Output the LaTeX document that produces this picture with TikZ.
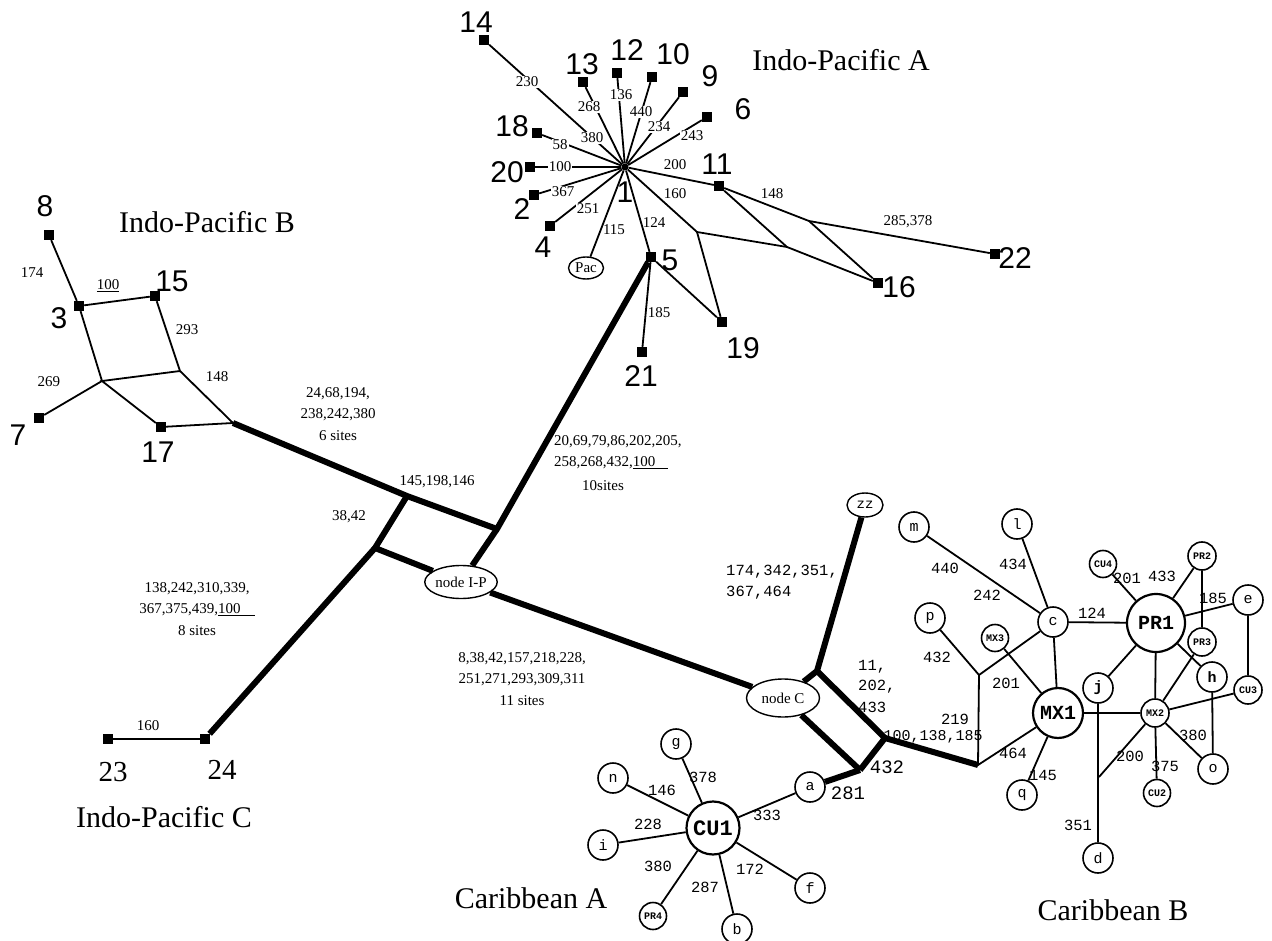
\documentclass[tikz,border=0pt]{standalone}
\usepackage{fontspec}
\setmainfont{Liberation Serif}
\setmonofont{Liberation Mono}
\newfontfamily\hsans{Liberation Sans}
\usetikzlibrary{shapes.geometric}
\tikzset{
 ln/.style={line width=1.8pt},
 thk/.style={line width=6pt},
 sq/.style={fill=black, rectangle, minimum size=10pt, inner sep=0pt},
 big/.style={font=\hsans\fontsize{30}{30}\selectfont, inner sep=0pt},
 sbig/.style={font=\fontsize{29}{29}\selectfont, inner sep=0pt},
 lab/.style={font=\fontsize{15}{15}\selectfont, inner sep=1pt},
 wlab/.style={lab, fill=white},
 blk/.style={font=\fontsize{15}{21.5}\selectfont, align=center, inner sep=0pt},
 reg/.style={font=\fontsize{30}{30}\selectfont, inner sep=0pt},
 mn/.style={font=\ttfamily\fontsize{15.5}{15.5}\selectfont, inner sep=1pt},
 mbig/.style={font=\ttfamily\fontsize{19}{19}\selectfont, inner sep=1pt},
 cnode/.style={circle, draw, line width=1.6pt, minimum size=30pt, inner sep=0pt, font=\ttfamily\fontsize{15}{15}\selectfont},
 csml/.style={circle, draw, line width=1.6pt, minimum size=27pt, inner sep=0pt, font=\ttfamily\bfseries\fontsize{10}{10}\selectfont},
 cbig/.style={circle, draw, line width=2.2pt, inner sep=0pt, font=\ttfamily\bfseries\fontsize{20}{20}\selectfont},
 ovl/.style={ellipse, draw, line width=1.4pt, inner sep=0pt, font=\fontsize{15}{15}\selectfont},
}
\begin{document}
\begin{tikzpicture}[x=1pt,y=-1pt]
\useasboundingbox[fill=white] (0,0) rectangle (1272,941);

% ---------------- Indo-Pacific A ----------------
\node[circle, fill=black, inner sep=0pt, minimum size=7pt] (hub) at (625,167) {};
\node[sq] (n14) at (484,40) {};
\node[sq] (n13) at (583,82) {};
\node[sq] (n12) at (617,73) {};
\node[sq] (n10) at (652,77) {};
\node[sq] (n9) at (683,92) {};
\node[sq] (n6) at (707,117) {};
\node[sq] (n18) at (537,133) {};
\node[sq] (n20) at (530,167) {};
\node[sq] (n2) at (534,195) {};
\node[sq] (n4) at (550,226) {};
\node[ovl, minimum width=35pt, minimum height=22pt] (pac) at (586,268) {Pac};
\node[sq] (n5) at (651,257) {};
\node[sq] (n11) at (719,186) {};
\node[sq] (n16) at (878,283) {};
\node[sq] (n22) at (995,254) {};
\node[sq] (n19) at (722,322) {};
\node[sq] (n21) at (642,352) {};
\coordinate (C1) at (697,232);
\coordinate (B1) at (787,247);
\coordinate (A1) at (809,221);

\foreach \t in {n14,n13,n12,n10,n9,n6,n18,n20,n2,n4,pac,n5,n11}
  \draw[ln] (hub) -- (\t);
\draw[ln] (hub) -- (C1) -- (B1) -- (n16);
\draw[ln] (n11) -- (A1) -- (n22);
\draw[ln] (n11) -- (B1);
\draw[ln] (A1) -- (n16);
\draw[ln] (C1) -- (n19);
\draw[ln] (n5) -- (n19);
\draw[ln] (n5) -- (n21);

\node[big] (t14) at (476,22) {14};
\node[big] (t13) at (582,64) {13};
\node[big] (t12) at (627,50) {12};
\node[big] (t10) at (673,54) {10};
\node[big] (t9) at (710,76) {9};
\node[big] (t6) at (743,109) {6};
\node[big] (t18) at (512,126) {18};
\node[big] (t20) at (507,172) {20};
\node[big] (t2) at (522,209) {2};
\node[big] (t4) at (543,247) {4};
\node[big] (t1) at (625,192) {1};
\node[big] (t5) at (670,260) {5};
\node[big] (t11) at (717,164) {11};
\node[big] (t16) at (899,287) {16};
\node[big] (t22) at (1015,258) {22};
\node[big] (t19) at (743,348) {19};
\node[big] (t21) at (641,376) {21};
\node[reg] (rA) at (841,60) {Indo-Pacific A};

\node[wlab] (e230) at (527,82) {230};
\node[wlab] (e268) at (589,107) {268};
\node[wlab] (e136) at (621,95) {136};
\node[wlab] (e440) at (641,112) {440};
\node[wlab] (e234) at (659,127) {234};
\node[wlab] (e243) at (692,136) {243};
\node[wlab] (e380) at (592,138) {380};
\node[wlab] (e58) at (560,145) {58};
\node[wlab] (e100) at (560,167) {100};
\node[wlab] (e367) at (563,192) {367};
\node[wlab] (e251) at (588,209) {251};
\node[lab] (e115) at (614,230) {115};
\node[lab] (e124) at (654,223) {124};
\node[lab] (e160) at (675,194) {160};
\node[lab] (e200) at (675,165) {200};
\node[lab] (e148a) at (772,194) {148};
\node[lab] (e285) at (908,222) {285,378};
\node[lab] (e185a) at (659,313) {185};

% ---------------- Indo-Pacific B ----------------
\node[sq] (n8) at (49,235) {};
\node[sq] (n3) at (79,306) {};
\node[sq] (n15) at (155,296) {};
\node[sq] (n7) at (39,418) {};
\node[sq] (n17) at (161,427) {};
\coordinate (D1) at (102,381);
\coordinate (E1) at (180,371);
\coordinate (F1) at (233,423);
\draw[ln] (n8) -- (n3) -- (D1);
\draw[ln] (n3) -- (n15) -- (E1) -- (F1) -- (n17) -- (D1) -- (E1);
\draw[ln] (D1) -- (n7);
\node[big] (t8) at (45,206) {8};
\node[big] (t3) at (59,318) {3};
\node[big] (t15) at (172,281) {15};
\node[big] (t7) at (18,435) {7};
\node[big] (t17) at (158,452) {17};
\node[reg] (rB) at (207,222) {Indo-Pacific B};
\node[lab] (e174) at (32,273) {174};
\node[lab] (e100b) at (108,286) {\underline{100}};
\node[lab] (e293) at (187,330) {293};
\node[lab] (e148b) at (217,377) {148};
\node[lab] (e269) at (49,382) {269};

% ---------------- Indo-Pacific C ----------------
\node[sq] (n23) at (108,739) {};
\node[sq] (n24) at (205,739) {};
\draw[ln] (n23) -- (n24);
\node[sbig] (t23) at (113,772) {23};
\node[sbig] (t24) at (222,770) {24};
\node[lab] (e160c) at (148,726) {160};
\node[reg] (rC) at (164,817) {Indo-Pacific C};

% ---------------- central thick network ----------------
\node[ovl, minimum width=72pt, minimum height=33pt] (nip) at (461,582) {node I-P};
\node[ovl, minimum width=73pt, minimum height=38pt] (nc) at (783,698) {node C};
\node[ovl, minimum width=36pt, minimum height=24pt, font=\ttfamily\fontsize{14}{14}\selectfont] (zz) at (865,505) {zz};
\coordinate (J1) at (407,496);
\coordinate (J2) at (497,529);
\coordinate (J3) at (375,548);
\coordinate (K1) at (817,671);
\coordinate (L1) at (885,738);
\coordinate (M1) at (860,770);
\coordinate (N1) at (978,765);
\coordinate (Q1) at (979,675);
\coordinate (R1) at (1099,777);

\draw[thk] (F1) -- (J1) -- (J2);
\draw[thk] (n5) -- (J2) -- (nip);
\draw[thk] (J1) -- (J3) -- (nip);
\draw[thk] (J3) -- (n24);
\draw[thk] (nip) -- (nc);
\draw[thk] (nc) -- (K1) -- (zz);
\draw[thk] (K1) -- (L1) -- (M1);
\draw[thk] (nc) -- (M1);
\draw[thk] (L1) -- (N1);

\node[blk] (b1) at (338,414) {24,68,194,\\238,242,380\\6 sites};
\node[lab] (b2) at (437,482) {145,198,146};
\node[lab] (b3) at (349,517) {38,42};
\node[lab, anchor=west] (b4a) at (553,442) {20,69,79,86,202,205,};
\node[lab, anchor=west] (b4b) at (553,463) {258,268,432,\underline{100\hspace{13pt}}};
\node[lab] (b4c) at (603,486) {10sites};
\node[blk] (b5) at (197,609) {138,242,310,339,\\367,375,439,\underline{100\hspace{14pt}}\\8 sites};
\node[blk] (b6) at (522,679) {8,38,42,157,218,228,\\251,271,293,309,311\\11 sites};

\node[mn, anchor=west] (b7a) at (725,572) {174,342,351,};
\node[mn, anchor=west] (b7b) at (725,593) {367,464};
\node[mn, anchor=west] (b8a) at (857,667) {11,};
\node[mn, anchor=west] (b8b) at (857,687) {202,};
\node[mn, anchor=west] (b8c) at (857,707) {433};
\node[mn, font=\ttfamily\fontsize{15}{15}\selectfont] (b9) at (933,737) {100,138,185};
\node[mbig] (b10) at (887,767) {432};
\node[mbig] (b11) at (848,793) {281};

% ---------------- Caribbean A ----------------
\node[cbig, minimum size=53pt, font=\ttfamily\bfseries\fontsize{22}{22}\selectfont] (cu1) at (713,828) {CU1};
\node[cnode] (g) at (676,744) {g};
\node[cnode] (n) at (613,778) {n};
\node[cnode] (i) at (603,845) {i};
\node[csml] (pr4) at (653,916) {PR4};
\node[cnode] (b) at (737,929) {b};
\node[cnode] (f) at (810,888) {f};
\node[cnode] (a) at (810,787) {a};
\foreach \t in {g,n,i,pr4,b,f,a}
  \draw[ln] (cu1) -- (\t);
\draw[thk] (M1) -- (a);
\node[mn] (c378) at (703,777) {378};
\node[mn] (c146) at (662,790) {146};
\node[mn] (c228) at (648,824) {228};
\node[mn] (c380) at (658,866) {380};
\node[mn] (c287) at (705,887) {287};
\node[mn] (c172) at (750,869) {172};
\node[mn] (c333) at (767,815) {333};
\node[reg] (rCA) at (531,898) {Caribbean A};

% ---------------- Caribbean B ----------------
\node[cnode] (m) at (914,527) {m};
\node[cnode] (l) at (1017,524) {l};
\node[cnode] (p) at (930,618) {p};
\node[cnode] (c) at (1053,622) {c};
\node[csml] (mx3) at (995,638) {MX3};
\node[csml] (cu4) at (1103,564) {CU4};
\node[cbig, minimum size=58pt] (pr1) at (1156,623) {PR1};
\node[csml, minimum size=28pt] (pr2) at (1202,556) {PR2};
\node[cnode] (e) at (1248,600) {e};
\node[csml, minimum size=28pt] (pr3) at (1202,642) {PR3};
\node[cnode, font=\ttfamily\bfseries\fontsize{15}{15}\selectfont] (h) at (1212,677) {h};
\node[csml, minimum size=28pt] (cu3) at (1248,690) {CU3};
\node[cnode, font=\ttfamily\bfseries\fontsize{15}{15}\selectfont] (j) at (1098,688) {j};
\node[cbig, minimum size=50pt] (mx1) at (1058,713) {MX1};
\node[csml, minimum size=28pt] (mx2) at (1155,713) {MX2};
\node[cnode] (o) at (1213,769) {o};
\node[csml] (cu2) at (1157,793) {CU2};
\node[cnode] (q) at (1022,795) {q};
\node[cnode] (d) at (1098,858) {d};

\draw[ln] (m) -- (c);
\draw[ln] (l) -- (c);
\draw[ln] (c) -- (pr1);
\draw[ln] (c) -- (Q1) -- (p);
\draw[ln] (Q1) -- (N1) -- (mx1);
\draw[ln] (c) -- (mx1);
\draw[ln] (mx3) -- (mx1);
\draw[ln] (mx1) -- (q);
\draw[ln] (mx1) -- (mx2);
\draw[ln] (pr1) -- (cu4);
\draw[ln] (pr1) -- (pr2);
\draw[ln] (pr1) -- (e);
\draw[ln] (pr2) -- (pr3);
\draw[ln] (pr1) -- (h);
\draw[ln] (pr1) -- (j);
\draw[ln] (pr1) -- (mx2);
\draw[ln] (pr3) -- (mx2);
\draw[ln] (mx2) -- (cu3);
\draw[ln] (e) -- (cu3);
\draw[ln] (h) -- (o);
\draw[ln] (mx2) -- (o);
\draw[ln] (mx2) -- (cu2);
\draw[ln] (mx2) -- (R1);
\draw[ln] (j) -- (d);

\node[mn] (k440) at (945,568) {440};
\node[mn] (k242) at (987,595) {242};
\node[mn] (k434) at (1013,564) {434};
\node[mn] (k432) at (937,657) {432};
\node[mn] (k201a) at (1006,683) {201};
\node[mn] (k124) at (1092,613) {124};
\node[mn] (k201b) at (1127,578) {201};
\node[mn] (k433) at (1162,576) {433};
\node[mn] (k185) at (1213,598) {185};
\node[mn] (k219) at (955,719) {219};
\node[mn] (k464) at (1013,753) {464};
\node[mn] (k145) at (1043,775) {145};
\node[mn] (k351) at (1078,825) {351};
\node[mn] (k200) at (1130,756) {200};
\node[mn] (k375) at (1165,766) {375};
\node[mn] (k380) at (1193,735) {380};
\node[reg] (rCB) at (1113,910) {Caribbean B};
\end{tikzpicture}
\end{document}
